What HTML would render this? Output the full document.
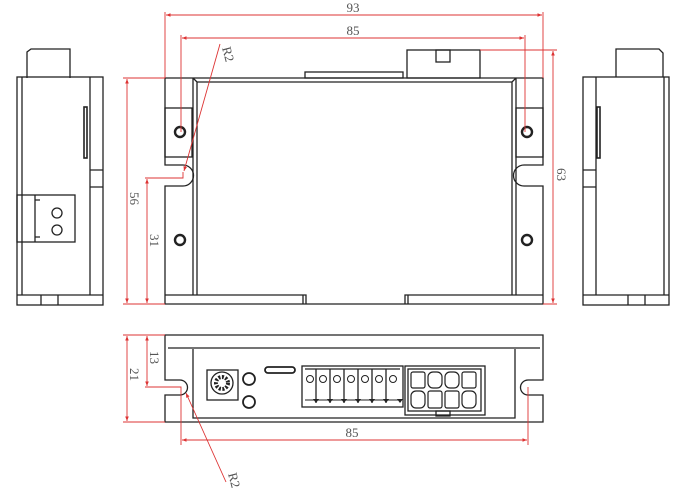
<!DOCTYPE html>
<html><head><meta charset="utf-8"><style>
html,body{margin:0;padding:0;background:#fff;width:679px;height:497px;overflow:hidden}
svg{display:block}
text{font-family:"Liberation Serif",serif;fill:#555;font-size:13px}
</style></head><body>
<svg width="679" height="497" viewBox="0 0 679 497" xmlns="http://www.w3.org/2000/svg">
<defs>
<marker id="a" viewBox="0 0 10 10" refX="10" refY="5" markerWidth="7" markerHeight="5" orient="auto-start-reverse"><path d="M0,1 L10,5 L0,9z" fill="#d33"/></marker>
</defs>
<g fill="none" stroke="#222" stroke-width="1.3">
<!-- TOP VIEW -->
<rect x="305" y="72" width="98" height="6"/>
<rect x="407" y="50" width="73" height="28"/>
<rect x="436" y="50" width="14" height="12"/>
<path d="M165,78 H543 V165 H524 A8,8 0 0 0 524,186 H543 V304 H165 V186 H183 A8,8 0 0 0 183,165 H165 Z"/>
<path d="M193,78 V295 M197,82 V295 M193,78 L197,82 H512 L516,78 M516,78 V295 M512,82 V295"/>
<rect x="165" y="108" width="27" height="49"/>
<rect x="516" y="108" width="27" height="49"/>
<path d="M165,295 H303 V304 M306,304 V295 H303 M405,304 V295 H543 M408,295 V304"/>
<circle cx="180" cy="132" r="5" stroke-width="2.4"/>
<circle cx="527" cy="132" r="5" stroke-width="2.4"/>
<circle cx="180" cy="240" r="5" stroke-width="2.4"/>
<circle cx="527" cy="240" r="5" stroke-width="2.4"/>
<!-- LEFT SIDE -->
<path d="M27,78 V52 L31,49 H70 V78"/>
<rect x="17" y="77" width="86" height="228"/>
<path d="M22,77 V295 M90,77 V295 M90,170 H103 M90,187 H103 M17,295 H103 M41,295 V305 M58,295 V305"/>
<rect x="84" y="107" width="3" height="51" stroke-width="1.6"/>
<rect x="17" y="195" width="58" height="47"/>
<path d="M35,195 V242 M35,200 H40 M35,237 H40"/>
<circle cx="57" cy="213" r="5"/><circle cx="57" cy="230" r="5"/>
<!-- RIGHT SIDE -->
<path d="M616,77 V49 H659 L663,53 V77"/>
<rect x="583" y="77" width="86" height="228"/>
<path d="M596,77 V295 M664,77 V295 M583,170 H596 M583,187 H596 M583,295 H669 M628,295 V305 M645,295 V305"/>
<rect x="597" y="107" width="3" height="51" stroke-width="1.6"/>
<!-- BOTTOM VIEW -->
<path d="M165,335 H543 V380 H528 A7,7 0 0 0 528,395 H543 V422 H165 V395 H180 A7,7 0 0 0 180,380 H165 Z"/>
<path d="M168,348 H540 M193,349 V418 H515 V349"/>
<rect x="207" y="370" width="31" height="30"/>
<circle cx="222" cy="383" r="11"/>
<circle cx="222" cy="383" r="6" stroke-width="4" stroke-dasharray="2 1.5"/>
<circle cx="249" cy="379" r="6" stroke-width="1.8"/>
<circle cx="249" cy="402" r="6" stroke-width="1.8"/>
<rect x="265" y="367" width="30" height="6" rx="3" stroke-width="1.8"/>
<rect x="302" y="366" width="101" height="41"/>
<path d="M305,369 H400 M316,369 V403 M330,369 V403 M344,369 V403 M358,369 V403 M372,369 V403 M386,369 V403"/>
<g stroke-width="1">
<circle cx="310" cy="379" r="3.5"/><circle cx="323" cy="379" r="3.5"/><circle cx="337" cy="379" r="3.5"/><circle cx="351" cy="379" r="3.5"/><circle cx="365" cy="379" r="3.5"/><circle cx="379" cy="379" r="3.5"/><circle cx="393" cy="379" r="3.5"/>
</g>
<path d="M305,400 H400" stroke-width="1"/>
<g fill="#222" stroke="none">
<path d="M313,399 l3,4 l3,-4z M327,399 l3,4 l3,-4z M341,399 l3,4 l3,-4z M355,399 l3,4 l3,-4z M369,399 l3,4 l3,-4z M383,399 l3,4 l3,-4z M397,399 l3,4 l3,-4z"/>
</g>
<rect x="405" y="366" width="80" height="49"/>
<rect x="408" y="369" width="73" height="42"/>
<rect x="436" y="411" width="14" height="5"/>
<g stroke-width="1.2">
<rect x="411" y="372" width="14" height="16" rx="2"/><rect x="428" y="372" width="14" height="16" rx="5"/><rect x="445" y="372" width="14" height="16" rx="5"/><rect x="462" y="372" width="14" height="16" rx="2"/>
<rect x="411" y="391" width="14" height="17" rx="5"/><rect x="428" y="391" width="14" height="17" rx="2"/><rect x="445" y="391" width="14" height="17" rx="2"/><rect x="462" y="391" width="14" height="17" rx="5"/>
</g>
</g>
<!-- DIMENSIONS -->
<g stroke="#d33" stroke-width="0.9" fill="none">
<path d="M165,78 V12 M543,78 V12 M181,132 V35 M525,132 V35"/>
<path d="M166,15 H542" marker-start="url(#a)" marker-end="url(#a)"/>
<path d="M182,38 H524" marker-start="url(#a)" marker-end="url(#a)"/>
<path d="M480,50 H557 M543,304 H557"/>
<path d="M553,51 V303" marker-start="url(#a)" marker-end="url(#a)"/>
<path d="M123,78 H165 M123,304 H165"/>
<path d="M127,79 V303" marker-start="url(#a)" marker-end="url(#a)"/>
<path d="M145,178 H183 V172"/>
<path d="M147,179 V303" marker-start="url(#a)" marker-end="url(#a)"/>
<path d="M220,44 L184,171" marker-end="url(#a)"/>
<path d="M123,335 H165 M123,422 H165 M145,387 H181 V445 M528,387 V445"/>
<path d="M127,336 V421" marker-start="url(#a)" marker-end="url(#a)"/>
<path d="M147,336 V386" marker-start="url(#a)" marker-end="url(#a)"/>
<path d="M182,440 H527" marker-start="url(#a)" marker-end="url(#a)"/>
<path d="M186,393 L226,482" marker-start="url(#a)"/>
</g>
<g>
<text x="353" y="12" text-anchor="middle">93</text>
<text x="353" y="35" text-anchor="middle">85</text>
<text x="352" y="437" text-anchor="middle">85</text>
<text transform="translate(222,48) rotate(75)">R2</text>
<text transform="translate(228,474) rotate(75)">R2</text>
<text transform="translate(557,168) rotate(90)">63</text>
<text transform="translate(130,192) rotate(90)">56</text>
<text transform="translate(150,234) rotate(90)">31</text>
<text transform="translate(150,351) rotate(90)">13</text>
<text transform="translate(130,368) rotate(90)">21</text>
</g>
</svg>
</body></html>
